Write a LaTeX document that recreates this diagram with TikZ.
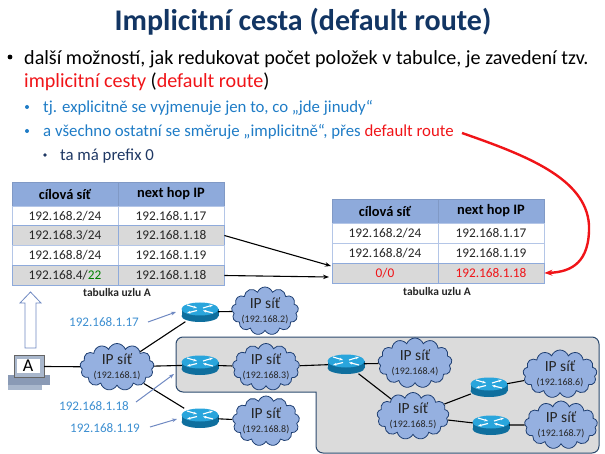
\documentclass[tikz,border=0pt]{standalone}
\usepackage{fontspec}
\setmainfont{Carlito}
\usetikzlibrary{arrows.meta, positioning, shapes.symbols, calc}
\definecolor{mTitle}{HTML}{123563}
\definecolor{mBlue}{HTML}{1F7CC6}
\definecolor{mNavy}{HTML}{1F3864}
\definecolor{mRed}{HTML}{F01418}
\definecolor{mHead}{HTML}{8EAADB}
\definecolor{mRow}{HTML}{D9D9D9}
\definecolor{mEdge}{HTML}{B4C6E7}
\definecolor{mCloud}{HTML}{95B0E0}
\definecolor{mCloudEdge}{HTML}{1F3F72}
\definecolor{mLabel}{HTML}{3D8FD1}
\definecolor{mPointer}{HTML}{6F89C2}
\definecolor{mPanel}{HTML}{DBDBDB}
\definecolor{mPanelEdge}{HTML}{2C4A6E}
\definecolor{mRouterTop}{HTML}{29A5DC}
\definecolor{mRouterBody}{HTML}{0F6F9E}
\definecolor{mPcBody}{HTML}{8A9AB5}
\definecolor{mPcFront}{HTML}{A9B7CC}
\newcommand{\fs}[1]{\fontsize{#1}{#1}\selectfont}
\tikzset{
  bulletline/.style={anchor=base west, inner sep=0pt},
  cellbox/.style={draw=mEdge, line width=0.8pt, minimum height=20pt, inner sep=0pt, font=\fs{13.3}, text=black!85},
  cellnet/.style={cellbox, minimum width=106pt},
  cellhop/.style={cellbox, minimum width=106pt},
  headrow/.style={fill=mHead, draw=mHead!90!black, minimum height=24pt, font=\fs{14.4}\bfseries, text=black},
  grayrow/.style={fill=mRow, draw=mHead},
  tablecaption/.style={inner sep=0pt, font=\fs{11.5}\bfseries, text=black!85},
  ipcloud/.style={cloud, cloud puffs=13, cloud puff arc=140, cloud ignores aspect, draw=mCloudEdge, fill=mCloud, line width=0.8pt, inner sep=0pt},
  cloudtext/.style={align=center, inner sep=0pt, text=black!85, font=\fs{15.5}},
  routernode/.style={rectangle, minimum width=36pt, minimum height=19pt, inner sep=0pt},
  iplabel/.style={inner sep=1pt, text=mLabel, font=\fs{13.1}},
  netline/.style={draw=black, line width=1.1pt},
  pointer/.style={draw=mPointer, line width=1pt, -{Stealth[length=5pt]}},
  routeline/.style={draw=black, line width=1.1pt, -{Stealth[length=6pt]}},
  pics/routerpic/.style={code={
    \fill[mRouterBody] (-18.5,-3) rectangle (18.5,4);
    \fill[mRouterBody] (0,4) circle[x radius=18.5pt, y radius=6pt];
    \fill[mRouterTop] (0,-3) circle[x radius=18.5pt, y radius=6.5pt];
    \foreach \xa/\ya/\xb/\yb in {-13/-7/-3/-4, -3/-1.5/-13/1, 13/1/3/-1.5, 3/-4/13/-7}
      \draw[white, line width=1.1pt, -{Stealth[length=3.5pt]}] (\xa,\ya) -- (\xb,\yb);
  }}
}
\begin{document}
\begin{tikzpicture}[x=1pt, y=-1pt]
  \useasboundingbox (0,0) rectangle (605,454);
  % title and bullets
  \node[anchor=base, inner sep=0pt, text=mTitle, font=\fs{30}\bfseries] (title) at (303,31) {Implicitní cesta (default route)};
  \node[bulletline] (b1) at (24,65) {\fs{20.1}další možností, jak redukovat počet položek v tabulce, je zavedení tzv.};
  \node[bulletline] (b1x) at (24,88) {\fs{20.1}\textcolor{mRed}{implicitní cesty} (\textcolor{mRed}{default route})};
  \node[bulletline, text=mBlue] (b2) at (43,113) {\fs{16.8}tj. explicitně se vyjmenuje jen to, co „jde jinudy“};
  \node[bulletline, text=mBlue] (b3) at (43,137) {\fs{16.8}a všechno ostatní se směruje „implicitně“, přes \textcolor{mRed}{default route}};
  \node[bulletline, text=mNavy] (b4) at (60,161) {\fs{16.8}ta má prefix 0};
  \fill[black] (10,57) circle[radius=2.4pt];
  \fill[mBlue] (27,107) circle[radius=2pt];
  \fill[mBlue] (27,131) circle[radius=2pt];
  \fill[mNavy] (45,155) circle[radius=1.8pt];

  % left table
  \node[cellnet, headrow] (la0) at (65,194) {cílová síť};
  \node[cellhop, headrow] (lb0) at (171,194) {next hop IP};
  \foreach \row/\y/\net/\hop/\look in {1/216/{192.168.2/24}/192.168.1.17/, 2/235.5/{192.168.3/24}/192.168.1.18/grayrow, 3/255/{192.168.8/24}/192.168.1.19/, 4/275.5/{192.168.4/\textcolor{green!50!black}{22}}/192.168.1.18/grayrow} {
    \node[cellnet, \look] (la\row) at (65,\y) {\net};
    \node[cellhop, \look] (lb\row) at (171,\y) {\hop};
  }
  \node[tablecaption] (lcap) at (117,293) {tabulka uzlu A};

  % right table
  \node[cellnet, headrow] (ra0) at (385,211) {cílová síť};
  \node[cellhop, headrow] (rb0) at (491,211) {next hop IP};
  \foreach \row/\y/\net/\hop in {1/233/{192.168.2/24}/192.168.1.17, 2/253/{192.168.8/24}/192.168.1.19} {
    \node[cellnet] (ra\row) at (385,\y) {\net};
    \node[cellhop] (rb\row) at (491,\y) {\hop};
  }
  \node[cellnet, grayrow, text=mRed] (ra3) at (385,273) {0/0};
  \node[cellhop, grayrow, text=mRed] (rb3) at (491,273) {192.168.1.18};
  \node[tablecaption] (rcap) at (437,292) {tabulka uzlu A};

  % arrows into the right table
  \coordinate (arrA) at (331,266);
  \coordinate (arrB) at (329,277);
  \draw[routeline] (lb2.east) -- (arrA);
  \draw[routeline] (lb4.east) -- (arrB);
  \coordinate (redStart) at (462,133);
  \draw[draw=mRed, line width=2.4pt, -{Stealth[length=8pt]}] (redStart) .. controls (525,155) and (586,178) .. (589,225) .. controls (590,262) and (572,272) .. (rb3.east);

  % shaded part of the network
  \draw[fill=mPanel, draw=mPanelEdge, line width=1pt, rounded corners=7pt] (176,337) -- (599,337) -- (599,453) -- (316,453) [sharp corners] -- (316,392) [rounded corners=7pt] -- (176,392) -- cycle;

  % clouds
  \foreach \name/\x/\y/\w/\h/\net in {c1/117/367/74/47/1, c2/265/311/67/48/2, c3/266/367/67/47/3, c8/266/421/67/50/8, c4/415/363/74/50/4, c5/413/416/72/47/5, c6/560/374/74/48/6, c7/561/425/73/48/7} {
    \node[ipcloud, minimum width=\w pt, minimum height=\h pt] (\name) at (\x,\y) {};
    \node[cloudtext] (\name t) at (\x,\y) {IP síť\\[-1pt]{\fs{10}(192.168.\net)}};
  }

  % routers
  \foreach \name/\x/\y in {r1/200/312, r2/200/365, r3/200/418, r4/346/364, r5/489/387, r6/491/425} {
    \node[routernode] (\name) at (\x,\y) {};
    \pic at (\x,\y) {routerpic};
  }

  % computer
  \fill[mPcBody] (8,375) rectangle (50,385);
  \fill[mPcFront] (8,385) rectangle (42,390);
  \node[rectangle, fill=mPcFront, draw=black!60, minimum width=30pt, minimum height=22pt, inner sep=0pt] (pc) at (29,366.5) {};
  \node[rectangle, fill=white, minimum width=23pt, minimum height=14pt, inner sep=0pt, font=\fs{18}] (pcA) at (28,366) {A};
  \draw[fill=white, draw=mPointer, line width=0.8pt] (30.5,292) -- (41,303) -- (36,303) -- (36,348) -- (25,348) -- (25,303) -- (20,303) -- cycle;

  % network links
  \draw[netline] (pc.east) -- (c1);
  \draw[netline] (c1) -- (r1);
  \draw[netline] (c1) -- (r2);
  \draw[netline] (c1) -- (r3);
  \draw[netline] (r1) -- (c2);
  \draw[netline] (r2) -- (c3);
  \draw[netline] (r3) -- (c8);
  \draw[netline] (c3) -- (r4);
  \draw[netline] (r4) -- (c4);
  \draw[netline] (r4) -- (c5);
  \draw[netline] (c5) -- (r5);
  \draw[netline] (r5) -- (c6);
  \draw[netline] (c5) -- (r6);
  \draw[netline] (r6) -- (c7);

  % address labels
  \node[iplabel] (ip17) at (104,322) {192.168.1.17};
  \node[iplabel] (ip18) at (94,406) {192.168.1.18};
  \node[iplabel] (ip19) at (105,428) {192.168.1.19};
  \coordinate (ptr17) at (176,312);
  \coordinate (ptr18) at (174,374);
  \coordinate (ptr19) at (177,419);
  \draw[pointer] (ip17.east) ++(8,0) -- (ptr17);
  \draw[pointer] (ip18.east) ++(6,-4) -- (ptr18);
  \draw[pointer] (ip19.east) ++(9,-1) -- (ptr19);
\end{tikzpicture}
\end{document}
